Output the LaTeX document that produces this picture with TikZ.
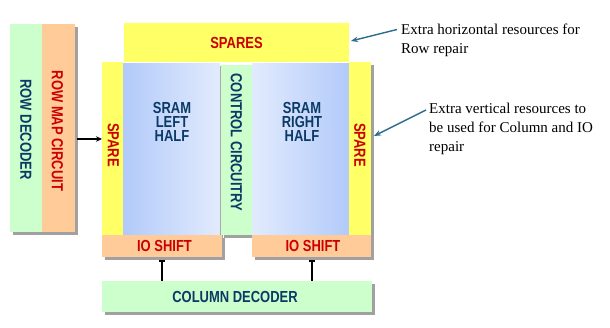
\documentclass[tikz,border=0pt]{standalone}
\usepackage{fontspec}
\setmainfont{Liberation Serif}
\newfontfamily\blockfont{Liberation Sans}
\usepackage{graphicx}
\usetikzlibrary{arrows.meta,shadows}
\definecolor{decgreen}{HTML}{CCFFCC}
\definecolor{mappeach}{HTML}{FFCC99}
\definecolor{spareyellow}{HTML}{FFFF66}
\definecolor{sramdark}{HTML}{B2CAFA}
\definecolor{sramlight}{HTML}{E2EBFD}
\definecolor{navytext}{HTML}{0B3A66}
\definecolor{redtext}{HTML}{CC0000}
\definecolor{noteblue}{HTML}{2D6E8E}
\newcommand{\narrow}[1]{\scalebox{0.81}[1]{#1}}
\begin{document}
\begin{tikzpicture}[x=1pt,y=1pt,
  blk/.style={inner sep=0pt, anchor=north west},
  shad/.style={drop shadow={shadow xshift=3pt, shadow yshift=-3pt, fill=black!37, opacity=1}},
  lbl/.style={inner sep=0pt, font=\blockfont\bfseries\fontsize{16}{14}\selectfont, align=center},
  vlbl/.style={lbl, rotate=-90},
  notetxt/.style={inner sep=0pt, anchor=north west, align=left, font=\fontsize{15}{18.7}\selectfont},
  note/.style={draw=noteblue, line width=1.4pt, -{Stealth[length=7pt,width=5.5pt]}},
  rowarrow/.style={draw=black, line width=1.8pt, -{Stealth[length=6pt,width=5.5pt]}, shorten <=2pt},
  barline/.style={draw=black, line width=2.2pt, {Bar[width=6pt,line width=1.6pt]}-}]
\useasboundingbox (0,0) rectangle (610,-328);
% row side
\node[blk, shad, fill=decgreen, minimum width=32pt, minimum height=208pt] (rowdec) at (10,-24) {};
\node[blk, shad, fill=mappeach, minimum width=33pt, minimum height=208pt] (rowmap) at (42,-24) {};
\node[vlbl, text=navytext] (rowdectxt) at (26,-129.5) {\narrow{ROW DECODER}};
\node[vlbl, text=redtext] (rowmaptxt) at (57.5,-131) {\narrow{ROW MAP CIRCUIT}};
% array
\node[blk, fill=spareyellow, minimum width=225pt, minimum height=39pt] (spares) at (124,-23) {};
\node[lbl, text=redtext] (sparestxt) at (236.5,-42.5) {\narrow{SPARES}};
\node[blk, shad, fill=spareyellow, minimum width=21pt, minimum height=173pt] (sparel) at (102,-62) {};
\node[blk, shad, left color=sramdark, right color=sramlight, minimum width=97pt, minimum height=172pt] (sraml) at (123,-63) {};
\node[blk, shad, fill=decgreen, minimum width=31pt, minimum height=170pt] (ctrl) at (221,-65) {};
\node[blk, shad, left color=sramlight, right color=sramdark, minimum width=97pt, minimum height=172pt] (sramr) at (252,-63) {};
\node[blk, shad, fill=spareyellow, minimum width=22pt, minimum height=173pt] (sparer) at (349,-62) {};
\node[vlbl, text=redtext] (sparetxtl) at (113.5,-145) {\narrow{SPARE}};
\node[vlbl, text=redtext] (sparetxtr) at (360,-145) {\narrow{SPARE}};
\node[lbl, text=navytext] (sramltxt) at (172,-122) {\narrow{SRAM}\\\narrow{LEFT}\\\narrow{HALF}};
\node[lbl, text=navytext] (sramrtxt) at (302,-122) {\narrow{SRAM}\\\narrow{RIGHT}\\\narrow{HALF}};
\node[vlbl, text=navytext] (ctrltxt) at (236.5,-142.5) {\narrow{CONTROL CIRCUITRY}};
\node[blk, shad, fill=mappeach, minimum width=120pt, minimum height=22pt] (ioshl) at (102,-235) {};
\node[blk, shad, fill=mappeach, minimum width=119pt, minimum height=22pt] (ioshr) at (252,-235) {};
\node[lbl, text=redtext] (ioshltxt) at (164.5,-246) {\narrow{IO SHIFT}};
\node[lbl, text=redtext] (ioshrtxt) at (313,-246) {\narrow{IO SHIFT}};
\node[blk, shad, fill=decgreen, minimum width=270pt, minimum height=31pt] (coldec) at (102,-281) {};
\node[lbl, text=navytext] (coldectxt) at (235,-296.5) {\narrow{COLUMN DECODER}};
% connectors
\coordinate (rowin) at (102,-139);
\draw[rowarrow] (rowmap.east |- rowin) -- (rowin);
\draw[barline] ([yshift=-3pt]ioshl.south) -- (ioshl.south |- coldec.north);
\draw[barline] ([yshift=-3pt]ioshr.south) -- (ioshr.south |- coldec.north);
% notes
\node[notetxt] (horztxt) at (401,-23.7) {Extra horizontal resources for\\Row repair};
\node[notetxt] (verttxt) at (429,-103.3) {Extra vertical resources to\\be used for Column and IO\\repair};
\coordinate (horztail) at (397,-29.5);
\coordinate (horztip) at (351,-41);
\coordinate (verttail) at (426,-110);
\coordinate (verttip) at (374,-136);
\draw[note] (horztail) -- (horztip);
\draw[note] (verttail) -- (verttip);
\end{tikzpicture}
\end{document}
